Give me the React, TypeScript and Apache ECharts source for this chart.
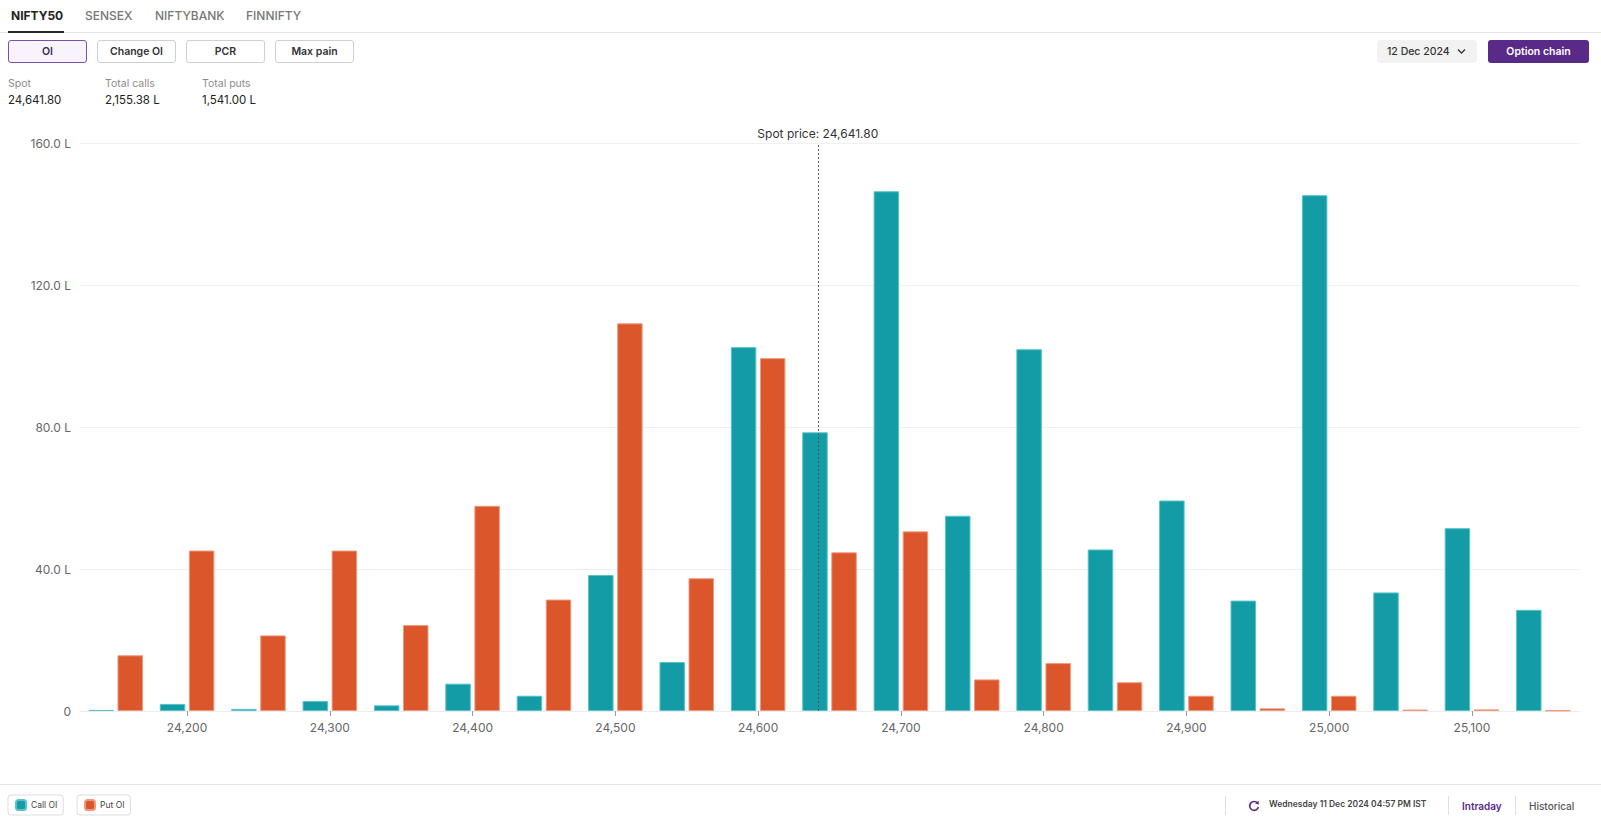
import React, { useEffect, useRef } from "react";
import * as echarts from "echarts";

// ---------- data ----------
const STRIKES = [
  24150, 24200, 24250, 24300, 24350, 24400, 24450, 24500, 24550, 24600, 24650,
  24700, 24750, 24800, 24850, 24900, 24950, 25000, 25050, 25100, 25150,
];
const CALL_OI = [
  0.3, 2.0, 0.6, 2.8, 1.6, 7.7, 4.3, 38.3, 13.8, 102.5, 78.5,
  146.4, 55.0, 101.9, 45.5, 59.3, 31.1, 145.3, 33.4, 51.5, 28.5,
];
const PUT_OI = [
  15.7, 45.2, 21.3, 45.2, 24.2, 57.8, 31.4, 109.2, 37.4, 99.4, 44.7,
  50.6, 8.9, 13.5, 8.1, 4.3, 0.75, 4.3, 0.4, 0.45, 0.15,
];
const SPOT = 24641.8;
const Y_MAX = 160;
const Y_STEP = 40;
const TABS = ["NIFTY50", "SENSEX", "NIFTYBANK", "FINNIFTY"];
const BUTTONS = ["OI", "Change OI", "PCR", "Max pain"];
const STATS = [
  { label: "Spot", value: "24,641.80" },
  { label: "Total calls", value: "2,155.38 L" },
  { label: "Total puts", value: "1,541.00 L" },
];

const TEAL = "#139ca6";
const ORANGE = "#db562b";
const PURPLE = "#5a2a88";
const FONT = "Inter, 'Noto Sans', sans-serif";

const fmt = (n: number, d = 0) =>
  n.toLocaleString("en-US", { minimumFractionDigits: d, maximumFractionDigits: d });

export default function App() {
  const ref = useRef<HTMLDivElement>(null);

  useEffect(() => {
    document.body.style.margin = "0";
    const chart = echarts.init(ref.current!, undefined, { renderer: "svg" });
    const step = STRIKES[1] - STRIKES[0];
    const legendBase = {
      top: 795,
      orient: "horizontal",
      selectedMode: false,
      icon: "roundRect",
      itemWidth: 10,
      itemHeight: 10,
      padding: [4, 6, 4, 7],
      borderColor: "#dddddd",
      borderWidth: 1,
      borderRadius: 3,
      textStyle: { fontFamily: FONT, fontSize: 8.5, color: "#444" },
    };
    chart.setOption({
      animation: false,
      textStyle: { fontFamily: FONT },
      grid: { left: 80, right: 22, top: 143, bottom: 110, containLabel: false },
      legend: [
        { ...legendBase, left: 8, data: ["Call OI"] },
        { ...legendBase, left: 77, data: ["Put OI"] },
      ],
      xAxis: [
        {
          type: "category",
          data: STRIKES.map(String),
          axisLine: { show: true, lineStyle: { color: "#ececec" } },
          axisTick: {
            show: true,
            alignWithLabel: true,
            length: 5,
            interval: (i: number) => i % 2 === 1,
            lineStyle: { color: "#999" },
          },
          axisLabel: {
            interval: (i: number) => i % 2 === 1,
            formatter: (v: string) => fmt(Number(v)),
            color: "#666",
            fontSize: 12,
            margin: 10,
            fontFamily: FONT,
          },
          splitLine: { show: false },
        },
        {
          type: "value",
          show: false,
          min: STRIKES[0] - step / 2,
          max: STRIKES[STRIKES.length - 1] + step / 2,
        },
      ],
      yAxis: {
        type: "value",
        min: 0,
        max: Y_MAX,
        interval: Y_STEP,
        axisLine: { show: false },
        axisTick: { show: false },
        axisLabel: {
          formatter: (v: number) => (v === 0 ? "0" : fmt(v, 1) + " L"),
          color: "#666",
          fontSize: 12,
          margin: 9,
          fontFamily: FONT,
        },
        splitLine: { lineStyle: { color: "#f0f0f0" } },
      },
      series: [
        {
          name: "Call OI",
          type: "bar",
          data: CALL_OI,
          barWidth: 25.5,
          barGap: "14%",
          itemStyle: { color: TEAL, borderColor: "#57c3ca", borderWidth: 1 },
        },
        {
          name: "Put OI",
          type: "bar",
          data: PUT_OI,
          barWidth: 25.5,
          barGap: "14%",
          itemStyle: { color: ORANGE, borderColor: "#ee9a7c", borderWidth: 1 },
        },
        {
          name: "spot",
          type: "scatter",
          xAxisIndex: 1,
          yAxisIndex: 0,
          symbolSize: 0,
          silent: true,
          data: [[SPOT, 0]],
          z: 5,
          markLine: {
            silent: true,
            symbol: ["none", "none"],
            lineStyle: { type: [2, 2], color: "#555", width: 1 },
            label: {
              show: true,
              position: "end",
              distance: 4,
              formatter: "Spot price: " + fmt(SPOT, 2),
              color: "#333",
              fontSize: 12,
              fontFamily: FONT,
            },
            data: [{ xAxis: SPOT }],
          },
        },
      ],
    });
    return () => chart.dispose();
  }, []);

  const abs = (s: React.CSSProperties): React.CSSProperties => ({ position: "absolute", ...s });
  const tabX = [11, 85, 155, 246];
  const btnX = [8, 97, 186, 275];
  const statX = [8, 105, 202];

  return (
    <div
      style={{
        position: "relative",
        width: 1601,
        height: 821,
        overflow: "hidden",
        background: "#fff",
        fontFamily: FONT,
        color: "#333",
      }}
    >
      <div ref={ref} style={abs({ left: 0, top: 0, width: 1601, height: 821 })} />

      {/* tabs */}
      {TABS.map((t, i) => (
        <div
          key={t}
          style={abs({
            left: tabX[i],
            top: 8,
            lineHeight: "16px",
            fontSize: 12,
            fontWeight: i === 0 ? 700 : 500,
            color: i === 0 ? "#222" : "#777",
            whiteSpace: "nowrap",
          })}
        >
          {t}
        </div>
      ))}
      <div style={abs({ left: 0, top: 32, width: 1601, height: 1, background: "#e3e3e3" })} />
      <div style={abs({ left: 8, top: 31, width: 56, height: 2, background: "#2a2a2a" })} />

      {/* buttons */}
      {BUTTONS.map((b, i) => (
        <div
          key={b}
          style={abs({
            left: btnX[i],
            top: 40,
            width: 79,
            height: 23,
            boxSizing: "border-box",
            border: i === 0 ? "1px solid #7a4fa6" : "1px solid #cfcfcf",
            background: i === 0 ? "#f8f3fc" : "#fff",
            borderRadius: 3,
            display: "flex",
            alignItems: "center",
            justifyContent: "center",
            fontSize: 10.5,
            fontWeight: 600,
            color: i === 0 ? "#3a2a4c" : "#333",
          })}
        >
          {b}
        </div>
      ))}

      {/* date selector */}
      <div
        style={abs({
          left: 1377,
          top: 40,
          width: 100,
          height: 23,
          background: "#f2f2f2",
          borderRadius: 4,
        })}
      >
        <div style={abs({ left: 10, top: 0, lineHeight: "23px", fontSize: 10.5, fontWeight: 500, color: "#333", whiteSpace: "nowrap" })}>
          12 Dec 2024
        </div>
        <svg style={abs({ left: 80, top: 8 })} width="9" height="7" viewBox="0 0 9 7">
          <polyline points="1,1.5 4.5,5 8,1.5" fill="none" stroke="#333" strokeWidth="1.3" />
        </svg>
      </div>
      <div
        style={abs({
          left: 1488,
          top: 40,
          width: 101,
          height: 23,
          background: PURPLE,
          borderRadius: 3,
          display: "flex",
          alignItems: "center",
          justifyContent: "center",
          color: "#fff",
          fontSize: 10.5,
          fontWeight: 600,
        })}
      >
        Option chain
      </div>

      {/* stats */}
      {STATS.map((s, i) => (
        <React.Fragment key={s.label}>
          <div style={abs({ left: statX[i], top: 77, lineHeight: "14px", fontSize: 10.5, color: "#8c8c8c", whiteSpace: "nowrap" })}>
            {s.label}
          </div>
          <div style={abs({ left: statX[i], top: 92, lineHeight: "16px", fontSize: 11.5, color: "#222", whiteSpace: "nowrap" })}>
            {s.value}
          </div>
        </React.Fragment>
      ))}

      {/* footer */}
      <div style={abs({ left: 0, top: 784, width: 1601, height: 1, background: "#e3e3e3" })} />
      <div style={abs({ left: 1225, top: 796, width: 1, height: 19, background: "#e0e0e0" })} />
      <div style={abs({ left: 1448, top: 796, width: 1, height: 19, background: "#e0e0e0" })} />
      <div style={abs({ left: 1515, top: 796, width: 1, height: 19, background: "#e0e0e0" })} />
      <svg style={abs({ left: 1248, top: 800 })} width="12" height="12" viewBox="0 0 12 12">
        <path d="M9.6 3.2 A4.4 4.4 0 1 0 10.4 7" fill="none" stroke={PURPLE} strokeWidth="1.6" />
        <polygon points="7.2,3.6 10.6,0.8 10.8,4.6" fill={PURPLE} />
      </svg>
      <div style={abs({ left: 1269, top: 798, lineHeight: "12px", fontSize: 8.5, fontWeight: 600, color: "#444", whiteSpace: "nowrap" })}>
        Wednesday 11 Dec 2024 04:57 PM IST
      </div>
      <div style={abs({ left: 1462, top: 799, lineHeight: "14px", fontSize: 10, fontWeight: 600, color: PURPLE, whiteSpace: "nowrap" })}>
        Intraday
      </div>
      <div style={abs({ left: 1529, top: 799, lineHeight: "14px", fontSize: 10, fontWeight: 500, color: "#555", whiteSpace: "nowrap" })}>
        Historical
      </div>
    </div>
  );
}
